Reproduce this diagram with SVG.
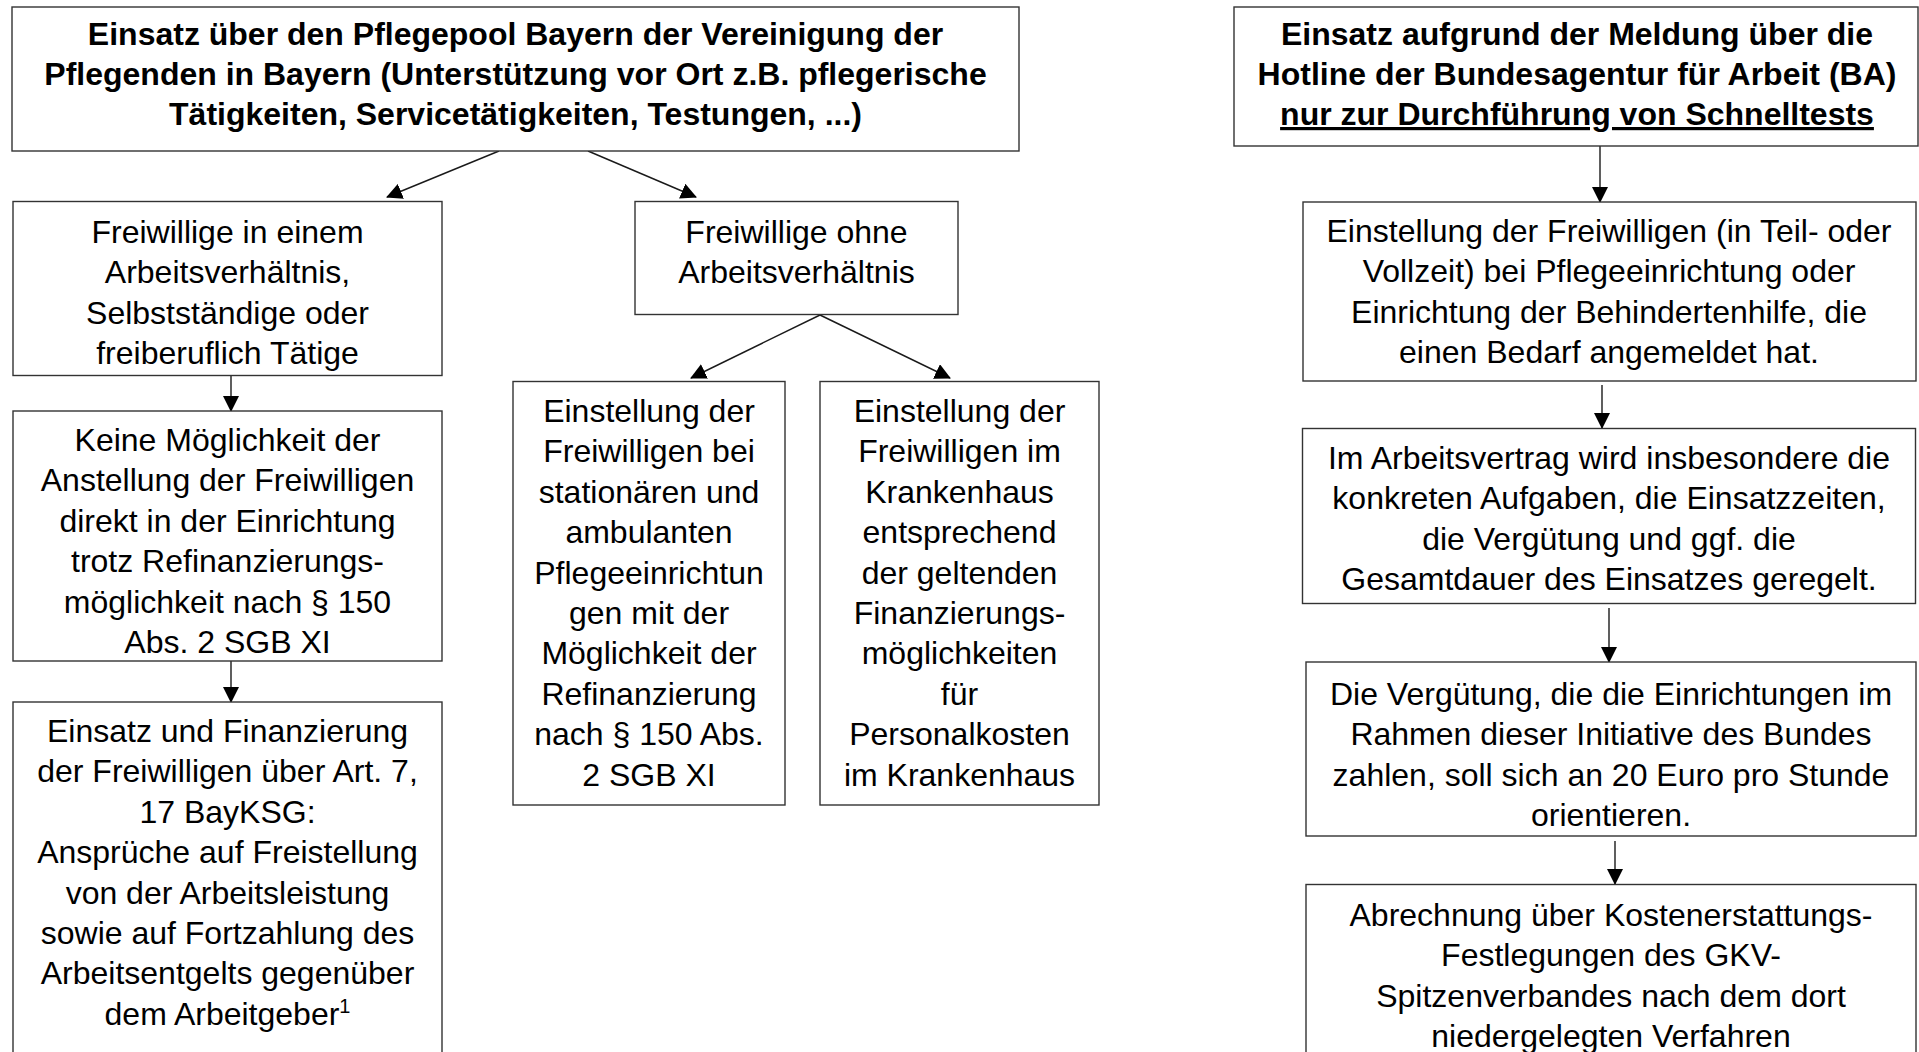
<svg xmlns="http://www.w3.org/2000/svg" width="1919" height="1052" viewBox="0 0 1919 1052">
<style>
.box{fill:#ffffff;stroke:#333333;stroke-width:1.4}
.t{font-family:"Liberation Sans",Arial,Helvetica,sans-serif;font-size:32px;fill:#000000;text-anchor:middle}
.b{font-weight:bold}
.u{text-decoration:underline}
.c{stroke:#1a1a1a;stroke-width:1.4;fill:none;marker-end:url(#ah)}
</style>
<defs>
<marker id="ah" viewBox="0 0 16 16" refX="15" refY="8" markerWidth="16" markerHeight="16" markerUnits="userSpaceOnUse" orient="auto">
<path d="M0,0 L16,8 L0,16 Z" fill="#000000"/>
</marker>
</defs>
<rect x="0" y="0" width="1919" height="1052" fill="#ffffff"/>
<g id="connectors">
<line class="c" x1="499" y1="151" x2="387" y2="197"/>
<line class="c" x1="588" y1="151" x2="696" y2="197"/>
<line class="c" x1="820" y1="315" x2="691" y2="378"/>
<line class="c" x1="820" y1="315" x2="950" y2="378"/>
<line class="c" x1="231" y1="376" x2="231" y2="411"/>
<line class="c" x1="231" y1="661" x2="231" y2="702"/>
<line class="c" x1="1600" y1="146" x2="1600" y2="202"/>
<line class="c" x1="1602" y1="385" x2="1602" y2="428"/>
<line class="c" x1="1609" y1="608" x2="1609" y2="662"/>
<line class="c" x1="1615" y1="841" x2="1615" y2="884"/>
</g>
<g id="nodeA">
<rect class="box" x="12" y="7" width="1007" height="144"/>
<text class="t b" x="515.5" y="45">Einsatz über den Pflegepool Bayern der Vereinigung der</text>
<text class="t b" x="515.5" y="85">Pflegenden in Bayern (Unterstützung vor Ort z.B. pflegerische</text>
<text class="t b" x="515.5" y="125">Tätigkeiten, Servicetätigkeiten, Testungen, ...)</text>
</g>
<g id="nodeB">
<rect class="box" x="13" y="201.5" width="429" height="174"/>
<text class="t" x="227.5" y="243">Freiwillige in einem</text>
<text class="t" x="227.5" y="283.4">Arbeitsverhältnis,</text>
<text class="t" x="227.5" y="323.8">Selbstständige oder</text>
<text class="t" x="227.5" y="364.2">freiberuflich Tätige</text>
</g>
<g id="nodeC">
<rect class="box" x="635" y="201.5" width="323" height="113"/>
<text class="t" x="796.5" y="243">Freiwillige ohne</text>
<text class="t" x="796.5" y="283.4">Arbeitsverhältnis</text>
</g>
<g id="nodeD">
<rect class="box" x="13" y="411" width="429" height="250"/>
<text class="t" x="227.5" y="451">Keine Möglichkeit der</text>
<text class="t" x="227.5" y="491.4">Anstellung der Freiwilligen</text>
<text class="t" x="227.5" y="531.8">direkt in der Einrichtung</text>
<text class="t" x="227.5" y="572.2">trotz Refinanzierungs-</text>
<text class="t" x="227.5" y="612.6">möglichkeit nach § 150</text>
<text class="t" x="227.5" y="653">Abs. 2 SGB XI</text>
</g>
<g id="nodeE">
<rect class="box" x="13" y="702" width="429" height="380"/>
<text class="t" x="227.5" y="742">Einsatz und Finanzierung</text>
<text class="t" x="227.5" y="782.4">der Freiwilligen über Art. 7,</text>
<text class="t" x="227.5" y="822.8">17 BayKSG:</text>
<text class="t" x="227.5" y="863.2">Ansprüche auf Freistellung</text>
<text class="t" x="227.5" y="903.6">von der Arbeitsleistung</text>
<text class="t" x="227.5" y="944">sowie auf Fortzahlung des</text>
<text class="t" x="227.5" y="984.4">Arbeitsentgelts gegenüber</text>
<text class="t" x="227.5" y="1024.8">dem Arbeitgeber<tspan font-size="20" dy="-12">1</tspan></text>
</g>
<g id="nodeF">
<rect class="box" x="513" y="381.5" width="272" height="423.5"/>
<text class="t" x="649" y="422">Einstellung der</text>
<text class="t" x="649" y="462.4">Freiwilligen bei</text>
<text class="t" x="649" y="502.8">stationären und</text>
<text class="t" x="649" y="543.2">ambulanten</text>
<text class="t" x="649" y="583.6">Pflegeeinrichtun</text>
<text class="t" x="649" y="624">gen mit der</text>
<text class="t" x="649" y="664.4">Möglichkeit der</text>
<text class="t" x="649" y="704.8">Refinanzierung</text>
<text class="t" x="649" y="745.2">nach § 150 Abs.</text>
<text class="t" x="649" y="785.6">2 SGB XI</text>
</g>
<g id="nodeG">
<rect class="box" x="820" y="381.5" width="279" height="423.5"/>
<text class="t" x="959.5" y="422">Einstellung der</text>
<text class="t" x="959.5" y="462.4">Freiwilligen im</text>
<text class="t" x="959.5" y="502.8">Krankenhaus</text>
<text class="t" x="959.5" y="543.2">entsprechend</text>
<text class="t" x="959.5" y="583.6">der geltenden</text>
<text class="t" x="959.5" y="624">Finanzierungs-</text>
<text class="t" x="959.5" y="664.4">möglichkeiten</text>
<text class="t" x="959.5" y="704.8">für</text>
<text class="t" x="959.5" y="745.2">Personalkosten</text>
<text class="t" x="959.5" y="785.6">im Krankenhaus</text>
</g>
<g id="nodeH">
<rect class="box" x="1234" y="7" width="684" height="139"/>
<text class="t b" x="1577" y="45">Einsatz aufgrund der Meldung über die</text>
<text class="t b" x="1577" y="85">Hotline der Bundesagentur für Arbeit (BA)</text>
<text class="t b u" x="1577" y="125">nur zur Durchführung von Schnelltests</text>
</g>
<g id="nodeI">
<rect class="box" x="1303" y="202" width="613" height="179"/>
<text class="t" x="1609" y="242">Einstellung der Freiwilligen (in Teil- oder</text>
<text class="t" x="1609" y="282.4">Vollzeit) bei Pflegeeinrichtung oder</text>
<text class="t" x="1609" y="322.8">Einrichtung der Behindertenhilfe, die</text>
<text class="t" x="1609" y="363.2">einen Bedarf angemeldet hat.</text>
</g>
<g id="nodeJ">
<rect class="box" x="1302.5" y="428.5" width="613" height="175"/>
<text class="t" x="1609" y="469">Im Arbeitsvertrag wird insbesondere die</text>
<text class="t" x="1609" y="509.4">konkreten Aufgaben, die Einsatzzeiten,</text>
<text class="t" x="1609" y="549.8">die Vergütung und ggf. die</text>
<text class="t" x="1609" y="590.2">Gesamtdauer des Einsatzes geregelt.</text>
</g>
<g id="nodeK">
<rect class="box" x="1306" y="662" width="610" height="174"/>
<text class="t" x="1611" y="705">Die Vergütung, die die Einrichtungen im</text>
<text class="t" x="1611" y="745.4">Rahmen dieser Initiative des Bundes</text>
<text class="t" x="1611" y="785.8">zahlen, soll sich an 20 Euro pro Stunde</text>
<text class="t" x="1611" y="826.2">orientieren.</text>
</g>
<g id="nodeL">
<rect class="box" x="1306" y="884.5" width="610" height="200"/>
<text class="t" x="1611" y="926">Abrechnung über Kostenerstattungs-</text>
<text class="t" x="1611" y="966.4">Festlegungen des GKV-</text>
<text class="t" x="1611" y="1006.8">Spitzenverbandes nach dem dort</text>
<text class="t" x="1611" y="1047.2">niedergelegten Verfahren</text>
</g>
</svg>
